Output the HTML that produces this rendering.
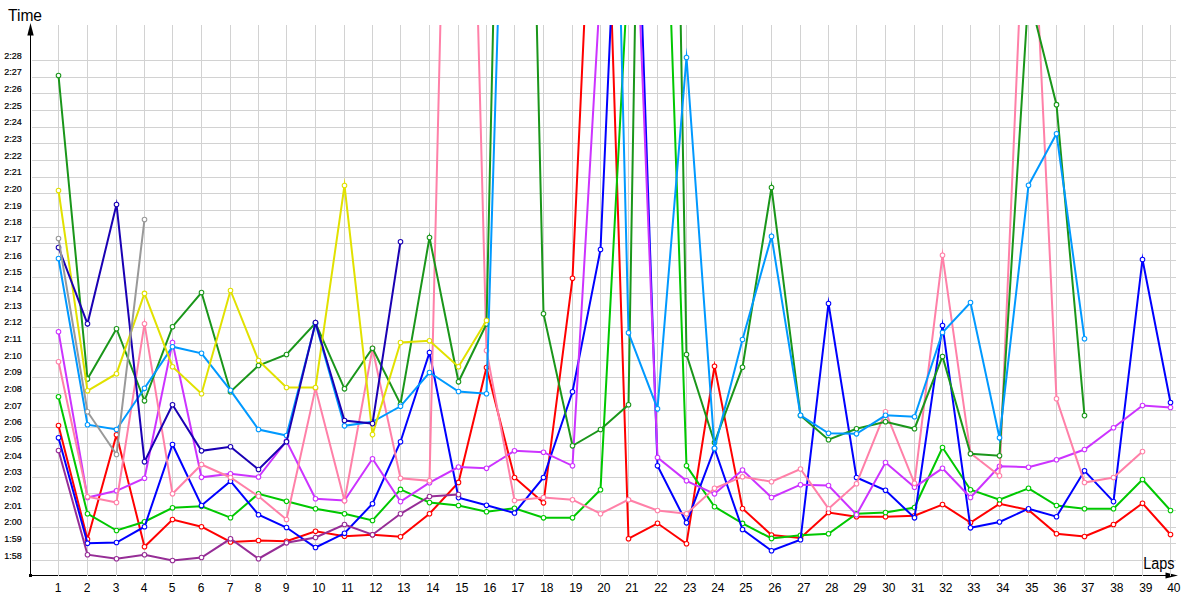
<!DOCTYPE html>
<html><head><meta charset="utf-8"><title>Lap times</title>
<style>html,body{margin:0;padding:0;background:#fff}svg{display:block}text{font-family:"Liberation Sans",sans-serif;fill:#000}</style></head><body>
<svg width="1200" height="600" viewBox="0 0 1200 600">
<rect width="1200" height="600" fill="#fff"/>
<defs><clipPath id="c"><rect x="31" y="25" width="1169" height="550"/></clipPath></defs>
<path d="M30.5 30V575.5M30 575.5H1170" stroke="#000" stroke-width="1" fill="none" shape-rendering="crispEdges"/>
<rect x="29" y="574" width="3" height="3" fill="#000"/>
<path d="M30.5 23L33.7 35.5H27.3Z" fill="#000"/>
<path d="M1178 575.5L1165.5 572.5V578.5Z" fill="#000"/>
<path d="M58.5 25V576M87.5 25V576M116.5 25V576M144.5 25V576M172.5 25V576M201.5 25V576M230.5 25V576M258.5 25V576M286.5 25V576M315.5 25V576M344.5 25V576M372.5 25V576M400.5 25V576M429.5 25V576M458.5 25V576M486.5 25V576M514.5 25V576M543.5 25V576M572.5 25V576M600.5 25V576M628.5 25V576M657.5 25V576M686.5 25V576M714.5 25V576M742.5 25V576M771.5 25V576M800.5 25V576M828.5 25V576M856.5 25V576M885.5 25V576M914.5 25V576M942.5 25V576M970.5 25V576M999.5 25V576M1028.5 25V576M1056.5 25V576M1084.5 25V576M1113.5 25V576M1142.5 25V576M1170.5 25V576M32 60.5H1176M32 77.5H1176M32 93.5H1176M32 110.5H1176M32 127.5H1176M32 143.5H1176M32 160.5H1176M32 177.5H1176M32 193.5H1176M32 210.5H1176M32 227.5H1176M32 243.5H1176M32 260.5H1176M32 277.5H1176M32 293.5H1176M32 310.5H1176M32 327.5H1176M32 343.5H1176M32 360.5H1176M32 377.5H1176M32 393.5H1176M32 410.5H1176M32 427.5H1176M32 443.5H1176M32 460.5H1176M32 477.5H1176M32 493.5H1176M32 510.5H1176M32 527.5H1176M32 543.5H1176M32 560.5H1176" stroke="#d2d2d2" stroke-width="1" fill="none" shape-rendering="crispEdges"/>
<g clip-path="url(#c)" stroke="#ff0000">
<polyline fill="none" stroke-width="2" stroke-linejoin="miter" stroke-miterlimit="10" points="58.5,425.5 87.5,539.2 116.5,434.7 144.5,546.7 172.5,519.5 201.5,526.7 230.5,542.0 258.5,540.5 286.5,541.3 315.5,531.3 344.5,536.2 372.5,534.7 400.5,536.7 429.5,513.7 458.5,482.4 486.5,367.5 514.5,477.5 543.5,502.8 572.5,278.3 600.5,-330.0 628.5,538.7 657.5,523.3 686.5,543.7 714.5,366.3 742.5,508.6 771.5,535.0 800.5,538.0 828.5,512.5 856.5,516.7 885.5,516.7 914.5,515.8 942.5,504.5 970.5,522.5 999.5,503.8 1028.5,510.0 1056.5,533.7 1084.5,536.5 1113.5,524.5 1142.5,503.3 1170.5,534.5"/>
<g fill="#fff" stroke-width="1.05"><circle cx="58.5" cy="425.5" r="2.3"/><circle cx="87.5" cy="539.2" r="2.3"/><circle cx="116.5" cy="434.7" r="2.3"/><circle cx="144.5" cy="546.7" r="2.3"/><circle cx="172.5" cy="519.5" r="2.3"/><circle cx="201.5" cy="526.7" r="2.3"/><circle cx="230.5" cy="542.0" r="2.3"/><circle cx="258.5" cy="540.5" r="2.3"/><circle cx="286.5" cy="541.3" r="2.3"/><circle cx="315.5" cy="531.3" r="2.3"/><circle cx="344.5" cy="536.2" r="2.3"/><circle cx="372.5" cy="534.7" r="2.3"/><circle cx="400.5" cy="536.7" r="2.3"/><circle cx="429.5" cy="513.7" r="2.3"/><circle cx="458.5" cy="482.4" r="2.3"/><circle cx="486.5" cy="367.5" r="2.3"/><circle cx="514.5" cy="477.5" r="2.3"/><circle cx="543.5" cy="502.8" r="2.3"/><circle cx="572.5" cy="278.3" r="2.3"/><circle cx="628.5" cy="538.7" r="2.3"/><circle cx="657.5" cy="523.3" r="2.3"/><circle cx="686.5" cy="543.7" r="2.3"/><circle cx="714.5" cy="366.3" r="2.3"/><circle cx="742.5" cy="508.6" r="2.3"/><circle cx="771.5" cy="535.0" r="2.3"/><circle cx="800.5" cy="538.0" r="2.3"/><circle cx="828.5" cy="512.5" r="2.3"/><circle cx="856.5" cy="516.7" r="2.3"/><circle cx="885.5" cy="516.7" r="2.3"/><circle cx="914.5" cy="515.8" r="2.3"/><circle cx="942.5" cy="504.5" r="2.3"/><circle cx="970.5" cy="522.5" r="2.3"/><circle cx="999.5" cy="503.8" r="2.3"/><circle cx="1028.5" cy="510.0" r="2.3"/><circle cx="1056.5" cy="533.7" r="2.3"/><circle cx="1084.5" cy="536.5" r="2.3"/><circle cx="1113.5" cy="524.5" r="2.3"/><circle cx="1142.5" cy="503.3" r="2.3"/><circle cx="1170.5" cy="534.5" r="2.3"/></g>
</g>
<g clip-path="url(#c)" stroke="#00c800">
<polyline fill="none" stroke-width="2" stroke-linejoin="miter" stroke-miterlimit="10" points="58.5,396.7 87.5,513.7 116.5,530.5 144.5,521.7 172.5,507.8 201.5,506.3 230.5,517.7 258.5,493.8 286.5,501.3 315.5,508.7 344.5,513.7 372.5,520.5 400.5,489.4 429.5,502.6 458.5,505.5 486.5,511.7 514.5,508.3 543.5,517.8 572.5,517.8 600.5,489.7 628.5,-36.0 657.5,-373.0 686.5,465.8 714.5,506.7 742.5,523.4 771.5,538.4 800.5,535.2 828.5,533.7 856.5,513.7 885.5,512.5 914.5,507.5 942.5,447.5 970.5,489.7 999.5,499.7 1028.5,488.3 1056.5,505.5 1084.5,508.7 1113.5,508.7 1142.5,479.5 1170.5,510.5"/>
<g fill="#fff" stroke-width="1.05"><circle cx="58.5" cy="396.7" r="2.3"/><circle cx="87.5" cy="513.7" r="2.3"/><circle cx="116.5" cy="530.5" r="2.3"/><circle cx="144.5" cy="521.7" r="2.3"/><circle cx="172.5" cy="507.8" r="2.3"/><circle cx="201.5" cy="506.3" r="2.3"/><circle cx="230.5" cy="517.7" r="2.3"/><circle cx="258.5" cy="493.8" r="2.3"/><circle cx="286.5" cy="501.3" r="2.3"/><circle cx="315.5" cy="508.7" r="2.3"/><circle cx="344.5" cy="513.7" r="2.3"/><circle cx="372.5" cy="520.5" r="2.3"/><circle cx="400.5" cy="489.4" r="2.3"/><circle cx="429.5" cy="502.6" r="2.3"/><circle cx="458.5" cy="505.5" r="2.3"/><circle cx="486.5" cy="511.7" r="2.3"/><circle cx="514.5" cy="508.3" r="2.3"/><circle cx="543.5" cy="517.8" r="2.3"/><circle cx="572.5" cy="517.8" r="2.3"/><circle cx="600.5" cy="489.7" r="2.3"/><circle cx="686.5" cy="465.8" r="2.3"/><circle cx="714.5" cy="506.7" r="2.3"/><circle cx="742.5" cy="523.4" r="2.3"/><circle cx="771.5" cy="538.4" r="2.3"/><circle cx="800.5" cy="535.2" r="2.3"/><circle cx="828.5" cy="533.7" r="2.3"/><circle cx="856.5" cy="513.7" r="2.3"/><circle cx="885.5" cy="512.5" r="2.3"/><circle cx="914.5" cy="507.5" r="2.3"/><circle cx="942.5" cy="447.5" r="2.3"/><circle cx="970.5" cy="489.7" r="2.3"/><circle cx="999.5" cy="499.7" r="2.3"/><circle cx="1028.5" cy="488.3" r="2.3"/><circle cx="1056.5" cy="505.5" r="2.3"/><circle cx="1084.5" cy="508.7" r="2.3"/><circle cx="1113.5" cy="508.7" r="2.3"/><circle cx="1142.5" cy="479.5" r="2.3"/><circle cx="1170.5" cy="510.5" r="2.3"/></g>
</g>
<g clip-path="url(#c)" stroke="#0000ff">
<polyline fill="none" stroke-width="2" stroke-linejoin="miter" stroke-miterlimit="10" points="58.5,437.8 87.5,543.3 116.5,542.5 144.5,526.7 172.5,444.5 201.5,505.5 230.5,481.2 258.5,514.7 286.5,527.5 315.5,547.5 344.5,533.3 372.5,503.7 400.5,441.7 429.5,352.5 458.5,497.6 486.5,505.3 514.5,513.0 543.5,477.5 572.5,391.7 600.5,249.5 628.5,-375.0 657.5,465.8 686.5,522.8 714.5,448.5 742.5,529.5 771.5,550.7 800.5,539.7 828.5,303.5 856.5,477.5 885.5,490.3 914.5,517.8 942.5,325.5 970.5,527.8 999.5,522.0 1028.5,508.7 1056.5,516.7 1084.5,470.8 1113.5,501.6 1142.5,259.5 1170.5,402.5"/>
<g fill="#fff" stroke-width="1.05"><circle cx="58.5" cy="437.8" r="2.3"/><circle cx="87.5" cy="543.3" r="2.3"/><circle cx="116.5" cy="542.5" r="2.3"/><circle cx="144.5" cy="526.7" r="2.3"/><circle cx="172.5" cy="444.5" r="2.3"/><circle cx="201.5" cy="505.5" r="2.3"/><circle cx="230.5" cy="481.2" r="2.3"/><circle cx="258.5" cy="514.7" r="2.3"/><circle cx="286.5" cy="527.5" r="2.3"/><circle cx="315.5" cy="547.5" r="2.3"/><circle cx="344.5" cy="533.3" r="2.3"/><circle cx="372.5" cy="503.7" r="2.3"/><circle cx="400.5" cy="441.7" r="2.3"/><circle cx="429.5" cy="352.5" r="2.3"/><circle cx="458.5" cy="497.6" r="2.3"/><circle cx="486.5" cy="505.3" r="2.3"/><circle cx="514.5" cy="513.0" r="2.3"/><circle cx="543.5" cy="477.5" r="2.3"/><circle cx="572.5" cy="391.7" r="2.3"/><circle cx="600.5" cy="249.5" r="2.3"/><circle cx="657.5" cy="465.8" r="2.3"/><circle cx="686.5" cy="522.8" r="2.3"/><circle cx="714.5" cy="448.5" r="2.3"/><circle cx="742.5" cy="529.5" r="2.3"/><circle cx="771.5" cy="550.7" r="2.3"/><circle cx="800.5" cy="539.7" r="2.3"/><circle cx="828.5" cy="303.5" r="2.3"/><circle cx="856.5" cy="477.5" r="2.3"/><circle cx="885.5" cy="490.3" r="2.3"/><circle cx="914.5" cy="517.8" r="2.3"/><circle cx="942.5" cy="325.5" r="2.3"/><circle cx="970.5" cy="527.8" r="2.3"/><circle cx="999.5" cy="522.0" r="2.3"/><circle cx="1028.5" cy="508.7" r="2.3"/><circle cx="1056.5" cy="516.7" r="2.3"/><circle cx="1084.5" cy="470.8" r="2.3"/><circle cx="1113.5" cy="501.6" r="2.3"/><circle cx="1142.5" cy="259.5" r="2.3"/><circle cx="1170.5" cy="402.5" r="2.3"/></g>
</g>
<g clip-path="url(#c)" stroke="#962d96">
<polyline fill="none" stroke-width="2" stroke-linejoin="miter" stroke-miterlimit="10" points="58.5,450.5 87.5,554.7 116.5,558.7 144.5,554.7 172.5,560.5 201.5,557.5 230.5,538.8 258.5,558.7 286.5,542.8 315.5,537.5 344.5,524.5 372.5,534.7 400.5,513.8 429.5,496.5 458.5,494.6"/>
<g fill="#fff" stroke-width="1.05"><circle cx="58.5" cy="450.5" r="2.3"/><circle cx="87.5" cy="554.7" r="2.3"/><circle cx="116.5" cy="558.7" r="2.3"/><circle cx="144.5" cy="554.7" r="2.3"/><circle cx="172.5" cy="560.5" r="2.3"/><circle cx="201.5" cy="557.5" r="2.3"/><circle cx="230.5" cy="538.8" r="2.3"/><circle cx="258.5" cy="558.7" r="2.3"/><circle cx="286.5" cy="542.8" r="2.3"/><circle cx="315.5" cy="537.5" r="2.3"/><circle cx="344.5" cy="524.5" r="2.3"/><circle cx="372.5" cy="534.7" r="2.3"/><circle cx="400.5" cy="513.8" r="2.3"/><circle cx="429.5" cy="496.5" r="2.3"/><circle cx="458.5" cy="494.6" r="2.3"/></g>
</g>
<g clip-path="url(#c)" stroke="#cc33ff">
<polyline fill="none" stroke-width="2" stroke-linejoin="miter" stroke-miterlimit="10" points="58.5,331.7 87.5,497.5 116.5,490.8 144.5,478.2 172.5,342.5 201.5,477.3 230.5,473.8 258.5,477.0 286.5,441.0 315.5,498.7 344.5,500.5 372.5,458.7 400.5,501.6 429.5,482.7 458.5,467.0 486.5,468.3 514.5,450.8 543.5,452.2 572.5,465.8 600.5,-15.0 628.5,-275.0 657.5,457.5 686.5,480.8 714.5,493.8 742.5,470.0 771.5,497.5 800.5,484.7 828.5,485.5 856.5,514.7 885.5,462.5 914.5,487.2 942.5,468.3 970.5,497.5 999.5,466.3 1028.5,467.2 1056.5,459.7 1084.5,449.5 1113.5,427.7 1142.5,405.5 1170.5,407.5"/>
<g fill="#fff" stroke-width="1.05"><circle cx="58.5" cy="331.7" r="2.3"/><circle cx="87.5" cy="497.5" r="2.3"/><circle cx="116.5" cy="490.8" r="2.3"/><circle cx="144.5" cy="478.2" r="2.3"/><circle cx="172.5" cy="342.5" r="2.3"/><circle cx="201.5" cy="477.3" r="2.3"/><circle cx="230.5" cy="473.8" r="2.3"/><circle cx="258.5" cy="477.0" r="2.3"/><circle cx="286.5" cy="441.0" r="2.3"/><circle cx="315.5" cy="498.7" r="2.3"/><circle cx="344.5" cy="500.5" r="2.3"/><circle cx="372.5" cy="458.7" r="2.3"/><circle cx="400.5" cy="501.6" r="2.3"/><circle cx="429.5" cy="482.7" r="2.3"/><circle cx="458.5" cy="467.0" r="2.3"/><circle cx="486.5" cy="468.3" r="2.3"/><circle cx="514.5" cy="450.8" r="2.3"/><circle cx="543.5" cy="452.2" r="2.3"/><circle cx="572.5" cy="465.8" r="2.3"/><circle cx="657.5" cy="457.5" r="2.3"/><circle cx="686.5" cy="480.8" r="2.3"/><circle cx="714.5" cy="493.8" r="2.3"/><circle cx="742.5" cy="470.0" r="2.3"/><circle cx="771.5" cy="497.5" r="2.3"/><circle cx="800.5" cy="484.7" r="2.3"/><circle cx="828.5" cy="485.5" r="2.3"/><circle cx="856.5" cy="514.7" r="2.3"/><circle cx="885.5" cy="462.5" r="2.3"/><circle cx="914.5" cy="487.2" r="2.3"/><circle cx="942.5" cy="468.3" r="2.3"/><circle cx="970.5" cy="497.5" r="2.3"/><circle cx="999.5" cy="466.3" r="2.3"/><circle cx="1028.5" cy="467.2" r="2.3"/><circle cx="1056.5" cy="459.7" r="2.3"/><circle cx="1084.5" cy="449.5" r="2.3"/><circle cx="1113.5" cy="427.7" r="2.3"/><circle cx="1142.5" cy="405.5" r="2.3"/><circle cx="1170.5" cy="407.5" r="2.3"/></g>
</g>
<g clip-path="url(#c)" stroke="#ff80a8">
<polyline fill="none" stroke-width="2" stroke-linejoin="miter" stroke-miterlimit="10" points="58.5,361.7 87.5,496.7 116.5,502.5 144.5,323.7 172.5,493.8 201.5,464.5 230.5,477.5 258.5,496.3 286.5,519.5 315.5,388.3 344.5,500.8 372.5,348.6 400.5,478.3 429.5,480.8 458.5,-735.0 486.5,350.6 514.5,500.5 543.5,497.5 572.5,499.7 600.5,513.7 628.5,499.7 657.5,510.5 686.5,513.7 714.5,488.3 742.5,476.7 771.5,481.7 800.5,469.0 828.5,508.7 856.5,483.7 885.5,411.7 914.5,483.3 942.5,255.3 970.5,453.3 999.5,475.8 1028.5,-200.0 1056.5,398.7 1084.5,482.5 1113.5,477.5 1142.5,451.6"/>
<g fill="#fff" stroke-width="1.05"><circle cx="58.5" cy="361.7" r="2.3"/><circle cx="87.5" cy="496.7" r="2.3"/><circle cx="116.5" cy="502.5" r="2.3"/><circle cx="144.5" cy="323.7" r="2.3"/><circle cx="172.5" cy="493.8" r="2.3"/><circle cx="201.5" cy="464.5" r="2.3"/><circle cx="230.5" cy="477.5" r="2.3"/><circle cx="258.5" cy="496.3" r="2.3"/><circle cx="286.5" cy="519.5" r="2.3"/><circle cx="315.5" cy="388.3" r="2.3"/><circle cx="344.5" cy="500.8" r="2.3"/><circle cx="372.5" cy="348.6" r="2.3"/><circle cx="400.5" cy="478.3" r="2.3"/><circle cx="429.5" cy="480.8" r="2.3"/><circle cx="486.5" cy="350.6" r="2.3"/><circle cx="514.5" cy="500.5" r="2.3"/><circle cx="543.5" cy="497.5" r="2.3"/><circle cx="572.5" cy="499.7" r="2.3"/><circle cx="600.5" cy="513.7" r="2.3"/><circle cx="628.5" cy="499.7" r="2.3"/><circle cx="657.5" cy="510.5" r="2.3"/><circle cx="686.5" cy="513.7" r="2.3"/><circle cx="714.5" cy="488.3" r="2.3"/><circle cx="742.5" cy="476.7" r="2.3"/><circle cx="771.5" cy="481.7" r="2.3"/><circle cx="800.5" cy="469.0" r="2.3"/><circle cx="828.5" cy="508.7" r="2.3"/><circle cx="856.5" cy="483.7" r="2.3"/><circle cx="885.5" cy="411.7" r="2.3"/><circle cx="914.5" cy="483.3" r="2.3"/><circle cx="942.5" cy="255.3" r="2.3"/><circle cx="970.5" cy="453.3" r="2.3"/><circle cx="999.5" cy="475.8" r="2.3"/><circle cx="1056.5" cy="398.7" r="2.3"/><circle cx="1084.5" cy="482.5" r="2.3"/><circle cx="1113.5" cy="477.5" r="2.3"/><circle cx="1142.5" cy="451.6" r="2.3"/></g>
</g>
<g clip-path="url(#c)" stroke="#1a961a">
<polyline fill="none" stroke-width="2" stroke-linejoin="miter" stroke-miterlimit="10" points="58.5,75.5 87.5,379.0 116.5,328.7 144.5,400.8 172.5,326.7 201.5,292.5 230.5,391.7 258.5,365.5 286.5,354.5 315.5,323.0 344.5,388.8 372.5,348.3 400.5,404.2 429.5,237.5 458.5,381.8 486.5,324.0 514.5,-940.0 543.5,313.7 572.5,445.8 600.5,429.5 628.5,404.7 657.5,-1300.0 686.5,354.5 714.5,442.5 742.5,367.2 771.5,187.5 800.5,415.5 828.5,439.7 856.5,428.7 885.5,421.7 914.5,428.7 942.5,356.5 970.5,453.7 999.5,455.8 1028.5,-7.0 1056.5,104.7 1084.5,415.6"/>
<g fill="#fff" stroke-width="1.05"><circle cx="58.5" cy="75.5" r="2.3"/><circle cx="87.5" cy="379.0" r="2.3"/><circle cx="116.5" cy="328.7" r="2.3"/><circle cx="144.5" cy="400.8" r="2.3"/><circle cx="172.5" cy="326.7" r="2.3"/><circle cx="201.5" cy="292.5" r="2.3"/><circle cx="230.5" cy="391.7" r="2.3"/><circle cx="258.5" cy="365.5" r="2.3"/><circle cx="286.5" cy="354.5" r="2.3"/><circle cx="315.5" cy="323.0" r="2.3"/><circle cx="344.5" cy="388.8" r="2.3"/><circle cx="372.5" cy="348.3" r="2.3"/><circle cx="400.5" cy="404.2" r="2.3"/><circle cx="429.5" cy="237.5" r="2.3"/><circle cx="458.5" cy="381.8" r="2.3"/><circle cx="486.5" cy="324.0" r="2.3"/><circle cx="543.5" cy="313.7" r="2.3"/><circle cx="572.5" cy="445.8" r="2.3"/><circle cx="600.5" cy="429.5" r="2.3"/><circle cx="628.5" cy="404.7" r="2.3"/><circle cx="686.5" cy="354.5" r="2.3"/><circle cx="714.5" cy="442.5" r="2.3"/><circle cx="742.5" cy="367.2" r="2.3"/><circle cx="771.5" cy="187.5" r="2.3"/><circle cx="800.5" cy="415.5" r="2.3"/><circle cx="828.5" cy="439.7" r="2.3"/><circle cx="856.5" cy="428.7" r="2.3"/><circle cx="885.5" cy="421.7" r="2.3"/><circle cx="914.5" cy="428.7" r="2.3"/><circle cx="942.5" cy="356.5" r="2.3"/><circle cx="970.5" cy="453.7" r="2.3"/><circle cx="999.5" cy="455.8" r="2.3"/><circle cx="1056.5" cy="104.7" r="2.3"/><circle cx="1084.5" cy="415.6" r="2.3"/></g>
</g>
<g clip-path="url(#c)" stroke="#0099ff">
<polyline fill="none" stroke-width="2" stroke-linejoin="miter" stroke-miterlimit="10" points="58.5,258.5 87.5,424.7 116.5,429.5 144.5,388.3 172.5,346.7 201.5,353.3 230.5,390.3 258.5,429.5 286.5,435.5 315.5,323.5 344.5,425.8 372.5,421.8 400.5,406.3 429.5,372.5 458.5,391.5 486.5,393.7 514.5,-525.0 543.5,-700.0 572.5,-700.0 600.5,-810.0 628.5,332.8 657.5,408.7 686.5,57.5 714.5,448.3 742.5,339.5 771.5,236.4 800.5,415.3 828.5,433.3 856.5,433.8 885.5,415.3 914.5,416.7 942.5,332.5 970.5,302.5 999.5,437.8 1028.5,185.3 1056.5,133.7 1084.5,338.7"/>
<path d="M687.50 57.51L686.55 47.50L685.50 57.49Z" fill="#0099ff" stroke="none"/>
<g fill="#fff" stroke-width="1.05"><circle cx="58.5" cy="258.5" r="2.3"/><circle cx="87.5" cy="424.7" r="2.3"/><circle cx="116.5" cy="429.5" r="2.3"/><circle cx="144.5" cy="388.3" r="2.3"/><circle cx="172.5" cy="346.7" r="2.3"/><circle cx="201.5" cy="353.3" r="2.3"/><circle cx="230.5" cy="390.3" r="2.3"/><circle cx="258.5" cy="429.5" r="2.3"/><circle cx="286.5" cy="435.5" r="2.3"/><circle cx="315.5" cy="323.5" r="2.3"/><circle cx="344.5" cy="425.8" r="2.3"/><circle cx="372.5" cy="421.8" r="2.3"/><circle cx="400.5" cy="406.3" r="2.3"/><circle cx="429.5" cy="372.5" r="2.3"/><circle cx="458.5" cy="391.5" r="2.3"/><circle cx="486.5" cy="393.7" r="2.3"/><circle cx="628.5" cy="332.8" r="2.3"/><circle cx="657.5" cy="408.7" r="2.3"/><circle cx="686.5" cy="57.5" r="2.3"/><circle cx="714.5" cy="448.3" r="2.3"/><circle cx="742.5" cy="339.5" r="2.3"/><circle cx="771.5" cy="236.4" r="2.3"/><circle cx="800.5" cy="415.3" r="2.3"/><circle cx="828.5" cy="433.3" r="2.3"/><circle cx="856.5" cy="433.8" r="2.3"/><circle cx="885.5" cy="415.3" r="2.3"/><circle cx="914.5" cy="416.7" r="2.3"/><circle cx="942.5" cy="332.5" r="2.3"/><circle cx="970.5" cy="302.5" r="2.3"/><circle cx="999.5" cy="437.8" r="2.3"/><circle cx="1028.5" cy="185.3" r="2.3"/><circle cx="1056.5" cy="133.7" r="2.3"/><circle cx="1084.5" cy="338.7" r="2.3"/></g>
</g>
<g clip-path="url(#c)" stroke="#e1e100">
<polyline fill="none" stroke-width="2" stroke-linejoin="miter" stroke-miterlimit="10" points="58.5,190.5 87.5,390.8 116.5,373.7 144.5,293.4 172.5,366.7 201.5,393.7 230.5,290.5 258.5,360.5 286.5,387.5 315.5,387.5 344.5,185.5 372.5,434.6 400.5,342.5 429.5,340.8 458.5,366.7 486.5,320.5"/>
<g fill="#fff" stroke-width="1.05"><circle cx="58.5" cy="190.5" r="2.3"/><circle cx="87.5" cy="390.8" r="2.3"/><circle cx="116.5" cy="373.7" r="2.3"/><circle cx="144.5" cy="293.4" r="2.3"/><circle cx="172.5" cy="366.7" r="2.3"/><circle cx="201.5" cy="393.7" r="2.3"/><circle cx="230.5" cy="290.5" r="2.3"/><circle cx="258.5" cy="360.5" r="2.3"/><circle cx="286.5" cy="387.5" r="2.3"/><circle cx="315.5" cy="387.5" r="2.3"/><circle cx="344.5" cy="185.5" r="2.3"/><circle cx="372.5" cy="434.6" r="2.3"/><circle cx="400.5" cy="342.5" r="2.3"/><circle cx="429.5" cy="340.8" r="2.3"/><circle cx="458.5" cy="366.7" r="2.3"/><circle cx="486.5" cy="320.5" r="2.3"/></g>
</g>
<g clip-path="url(#c)" stroke="#1a00b4">
<polyline fill="none" stroke-width="2" stroke-linejoin="miter" stroke-miterlimit="10" points="58.5,247.5 87.5,323.8 116.5,204.5 144.5,461.7 172.5,404.7 201.5,450.8 230.5,446.7 258.5,469.5 286.5,441.7 315.5,322.5 344.5,420.5 372.5,423.6 400.5,241.7"/>
<g fill="#fff" stroke-width="1.05"><circle cx="58.5" cy="247.5" r="2.3"/><circle cx="87.5" cy="323.8" r="2.3"/><circle cx="116.5" cy="204.5" r="2.3"/><circle cx="144.5" cy="461.7" r="2.3"/><circle cx="172.5" cy="404.7" r="2.3"/><circle cx="201.5" cy="450.8" r="2.3"/><circle cx="230.5" cy="446.7" r="2.3"/><circle cx="258.5" cy="469.5" r="2.3"/><circle cx="286.5" cy="441.7" r="2.3"/><circle cx="315.5" cy="322.5" r="2.3"/><circle cx="344.5" cy="420.5" r="2.3"/><circle cx="372.5" cy="423.6" r="2.3"/><circle cx="400.5" cy="241.7" r="2.3"/></g>
</g>
<g clip-path="url(#c)" stroke="#999999">
<polyline fill="none" stroke-width="2" stroke-linejoin="miter" stroke-miterlimit="10" points="58.5,238.5 87.5,411.7 116.5,454.5 144.5,219.5"/>
<g fill="#fff" stroke-width="1.05"><circle cx="58.5" cy="238.5" r="2.3"/><circle cx="87.5" cy="411.7" r="2.3"/><circle cx="116.5" cy="454.5" r="2.3"/><circle cx="144.5" cy="219.5" r="2.3"/></g>
</g>
<text x="8" y="20.5" font-size="16" textLength="34" lengthAdjust="spacingAndGlyphs">Time</text>
<text x="1143.3" y="569.4" font-size="16" textLength="31.3" lengthAdjust="spacingAndGlyphs">Laps</text>
<g font-size="9.7" stroke="#000" stroke-width="0.2"><text x="4.3" y="58.7" textLength="17.5" lengthAdjust="spacingAndGlyphs">2:28</text><text x="4.3" y="75.4" textLength="17.5" lengthAdjust="spacingAndGlyphs">2:27</text><text x="4.3" y="92.0" textLength="17.5" lengthAdjust="spacingAndGlyphs">2:26</text><text x="4.3" y="108.7" textLength="17.5" lengthAdjust="spacingAndGlyphs">2:25</text><text x="4.3" y="125.4" textLength="17.5" lengthAdjust="spacingAndGlyphs">2:24</text><text x="4.3" y="142.0" textLength="17.5" lengthAdjust="spacingAndGlyphs">2:23</text><text x="4.3" y="158.7" textLength="17.5" lengthAdjust="spacingAndGlyphs">2:22</text><text x="4.3" y="175.4" textLength="17.5" lengthAdjust="spacingAndGlyphs">2:21</text><text x="4.3" y="192.0" textLength="17.5" lengthAdjust="spacingAndGlyphs">2:20</text><text x="4.3" y="208.7" textLength="17.5" lengthAdjust="spacingAndGlyphs">2:19</text><text x="4.3" y="225.4" textLength="17.5" lengthAdjust="spacingAndGlyphs">2:18</text><text x="4.3" y="242.0" textLength="17.5" lengthAdjust="spacingAndGlyphs">2:17</text><text x="4.3" y="258.7" textLength="17.5" lengthAdjust="spacingAndGlyphs">2:16</text><text x="4.3" y="275.4" textLength="17.5" lengthAdjust="spacingAndGlyphs">2:15</text><text x="4.3" y="292.0" textLength="17.5" lengthAdjust="spacingAndGlyphs">2:14</text><text x="4.3" y="308.7" textLength="17.5" lengthAdjust="spacingAndGlyphs">2:13</text><text x="4.3" y="325.4" textLength="17.5" lengthAdjust="spacingAndGlyphs">2:12</text><text x="4.3" y="342.0" textLength="17.5" lengthAdjust="spacingAndGlyphs">2:11</text><text x="4.3" y="358.7" textLength="17.5" lengthAdjust="spacingAndGlyphs">2:10</text><text x="4.3" y="375.4" textLength="17.5" lengthAdjust="spacingAndGlyphs">2:09</text><text x="4.3" y="392.0" textLength="17.5" lengthAdjust="spacingAndGlyphs">2:08</text><text x="4.3" y="408.7" textLength="17.5" lengthAdjust="spacingAndGlyphs">2:07</text><text x="4.3" y="425.4" textLength="17.5" lengthAdjust="spacingAndGlyphs">2:06</text><text x="4.3" y="442.0" textLength="17.5" lengthAdjust="spacingAndGlyphs">2:05</text><text x="4.3" y="458.7" textLength="17.5" lengthAdjust="spacingAndGlyphs">2:04</text><text x="4.3" y="475.4" textLength="17.5" lengthAdjust="spacingAndGlyphs">2:03</text><text x="4.3" y="492.0" textLength="17.5" lengthAdjust="spacingAndGlyphs">2:02</text><text x="4.3" y="508.7" textLength="17.5" lengthAdjust="spacingAndGlyphs">2:01</text><text x="4.3" y="525.4" textLength="17.5" lengthAdjust="spacingAndGlyphs">2:00</text><text x="4.3" y="542.0" textLength="17.5" lengthAdjust="spacingAndGlyphs">1:59</text><text x="4.3" y="558.7" textLength="17.5" lengthAdjust="spacingAndGlyphs">1:58</text></g>
<g font-size="12"><text x="54.7" y="592">1</text><text x="83.7" y="592">2</text><text x="112.7" y="592">3</text><text x="140.7" y="592">4</text><text x="168.7" y="592">5</text><text x="197.7" y="592">6</text><text x="226.7" y="592">7</text><text x="254.7" y="592">8</text><text x="282.7" y="592">9</text><text x="312.2" y="592">10</text><text x="341.2" y="592">11</text><text x="369.2" y="592">12</text><text x="397.2" y="592">13</text><text x="426.2" y="592">14</text><text x="455.2" y="592">15</text><text x="483.2" y="592">16</text><text x="511.2" y="592">17</text><text x="540.2" y="592">18</text><text x="569.2" y="592">19</text><text x="597.2" y="592">20</text><text x="625.2" y="592">21</text><text x="654.2" y="592">22</text><text x="683.2" y="592">23</text><text x="711.2" y="592">24</text><text x="739.2" y="592">25</text><text x="768.2" y="592">26</text><text x="797.2" y="592">27</text><text x="825.2" y="592">28</text><text x="853.2" y="592">29</text><text x="882.2" y="592">30</text><text x="911.2" y="592">31</text><text x="939.2" y="592">32</text><text x="967.2" y="592">33</text><text x="996.2" y="592">34</text><text x="1025.2" y="592">35</text><text x="1053.2" y="592">36</text><text x="1081.2" y="592">37</text><text x="1110.2" y="592">38</text><text x="1139.2" y="592">39</text><text x="1167.2" y="592">40</text></g>
</svg></body></html>
